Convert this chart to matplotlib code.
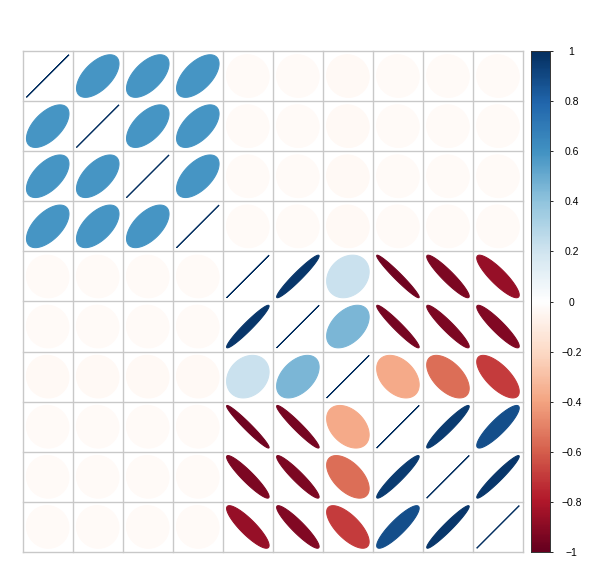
import numpy as np
import matplotlib
matplotlib.use("Agg")
import matplotlib.pyplot as plt
from matplotlib.colors import LinearSegmentedColormap, ListedColormap
from matplotlib.patches import Polygon

plt.rcParams["font.family"] = ["Liberation Sans", "DejaVu Sans"]

# correlation values (upper triangle, mirrored below)
n_vars = 10
block_a = [0, 1, 2, 3]
block_a_r = 0.58
cross_r = [-0.03, -0.03, -0.035, -0.03, -0.03, -0.03]   # vars 5..10 vs vars 1..4
upper_b = {
    (4, 5): 0.96, (4, 6): 0.22, (4, 7): -0.97, (4, 8): -0.93, (4, 9): -0.87,
    (5, 6): 0.45, (5, 7): -0.96, (5, 8): -0.94, (5, 9): -0.92,
    (6, 7): -0.38, (6, 8): -0.55, (6, 9): -0.70,
    (7, 8): 0.95, (7, 9): 0.88,
    (8, 9): 0.96,
}
cbar_ticks = [-1, -0.8, -0.6, -0.4, -0.2, 0, 0.2, 0.4, 0.6, 0.8, 1]
rdbu = ["#67001F", "#B2182B", "#D6604D", "#F4A582", "#FDDBC7", "#FFFFFF",
        "#D1E5F0", "#92C5DE", "#4393C3", "#2166AC", "#053061"]

corr = np.eye(n_vars)
for i in block_a:
    for j in block_a:
        if i != j:
            corr[i, j] = block_a_r
for k, r in enumerate(cross_r):
    for i in block_a:
        corr[i, 4 + k] = corr[4 + k, i] = r
for (i, j), r in upper_b.items():
    corr[i, j] = corr[j, i] = r

cmap = ListedColormap(LinearSegmentedColormap.from_list("rdbu", rdbu)(np.linspace(0, 1, 200)))


def ellipse_xy(rho, length=99):
    k = np.linspace(0, 2 * np.pi, length)
    a = np.arccos(np.clip(rho, -1, 1))
    return 0.85 * np.cos(k + a / 2) / 2, 0.85 * np.cos(k - a / 2) / 2


W, H = 598, 565
fig = plt.figure(figsize=(W / 100, H / 100), dpi=100)
gl, gr, gt, gb = 22.7, 523.0, 51.0, 552.0
ax = fig.add_axes([gl / W, 1 - gb / H, (gr - gl) / W, (gb - gt) / H])
ax.set_xlim(0.5, n_vars + 0.5)
ax.set_ylim(0.5, n_vars + 0.5)
ax.axis("off")

for i in range(n_vars):
    for j in range(n_vars):
        cx, cy = j + 1, n_vars - i
        ex, ey = ellipse_xy(corr[i, j])
        col = cmap((corr[i, j] + 1) / 2)
        ax.add_patch(Polygon(np.column_stack([cx + ex, cy + ey]), closed=True,
                             facecolor=col, edgecolor=col, linewidth=0.75))

for v in np.arange(0.5, n_vars + 1, 1):
    ax.plot([v, v], [0.5, n_vars + 0.5], color="#C8C8C8", lw=1.0, clip_on=False)
    ax.plot([0.5, n_vars + 0.5], [v, v], color="#C8C8C8", lw=1.0, clip_on=False)

# color legend
cl, cr = 531.0, 550.0
cax = fig.add_axes([cl / W, 1 - gb / H, (cr - cl) / W, (gb - gt) / H])
grad = np.linspace(-1, 1, 200).reshape(-1, 1)
cax.imshow(grad, cmap=cmap, vmin=-1, vmax=1, aspect="auto", origin="lower",
           extent=[0, 1, -1, 1])
cax.set_xlim(0, 1)
cax.set_ylim(-1, 1)
cax.set_xticks([])
cax.yaxis.tick_right()
cax.set_yticks(cbar_ticks)
cax.set_yticklabels([f"{t:g}".replace("-", "\u2212") for t in cbar_ticks],
                    ha="center", fontsize=7.5)
cax.tick_params(axis="y", length=2.5, width=0.6, pad=13, colors="black")
for s in cax.spines.values():
    s.set_linewidth(0.7)
    s.set_color("#333333")

fig.savefig("out.png", dpi=100, facecolor="white")
